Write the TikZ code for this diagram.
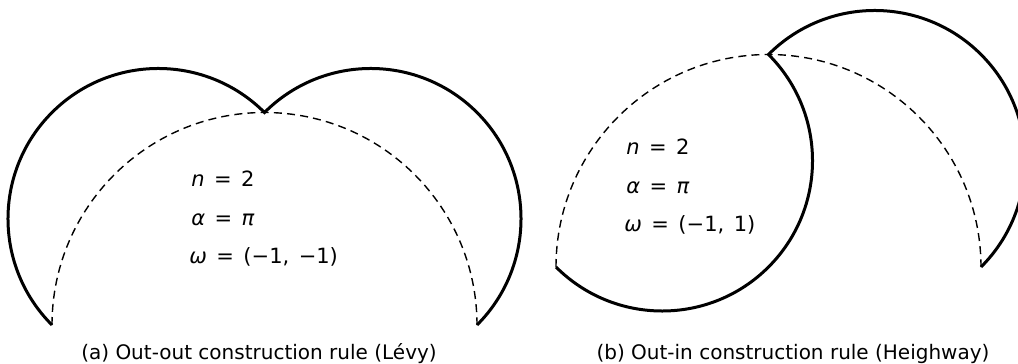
\documentclass[tikz,border=0pt]{standalone}
\usepackage{fontspec}
\setmainfont{DejaVu Sans}
\newcommand{\gap}{\hspace{0.45em}}
\begin{document}
\begin{tikzpicture}[x=0.5pt, y=0.5pt,
  curve/.style={line width=1.5pt},
  chord/.style={line width=0.7pt, dash pattern=on 4pt off 2.6pt},
  param/.style={anchor=base west, inner sep=0pt, font=\fontsize{10.5}{13}\selectfont},
  capt/.style={anchor=base, inner sep=0pt}]
\useasboundingbox (0,0) rectangle (1018,364);

% (a) out-out: both half arcs bulge away from the dashed arc
\coordinate (a0) at (52,39);
\draw[chord] (a0) arc[start angle=180, end angle=0, radius=212.5];
\draw[curve] (a0) arc[start angle=225, end angle=45, radius=150.26]
  arc[start angle=135, end angle=-45, radius=150.26];
\node[param] (na) at (191,177) {\textit{n}\gap=\gap2};
\node[param] (aa) at (191,138.5) {\textit{α}\gap=\gap\textit{π}};
\node[param] (wa) at (189,100) {\textit{ω}\gap=\gap(−1,\gap−1)};
\node[capt] (capa) at (259,4) {(a) Out-out construction rule (Lévy)};

% (b) out-in: first half arc turned inwards, second one outwards
\coordinate (b0) at (556,97);
\draw[chord] (b0) arc[start angle=180, end angle=0, radius=212.5];
\draw[curve] (b0) arc[start angle=225, end angle=405, radius=150.26]
  arc[start angle=135, end angle=-45, radius=150.26];
\node[param] (nb) at (626,209) {\textit{n}\gap=\gap2};
\node[param] (ab) at (626,170.5) {\textit{α}\gap=\gap\textit{π}};
\node[param] (wb) at (624,132) {\textit{ω}\gap=\gap(−1,\gap1)};
\node[capt] (capb) at (793,4) {(b) Out-in construction rule (Heighway)};

\end{tikzpicture}
\end{document}
